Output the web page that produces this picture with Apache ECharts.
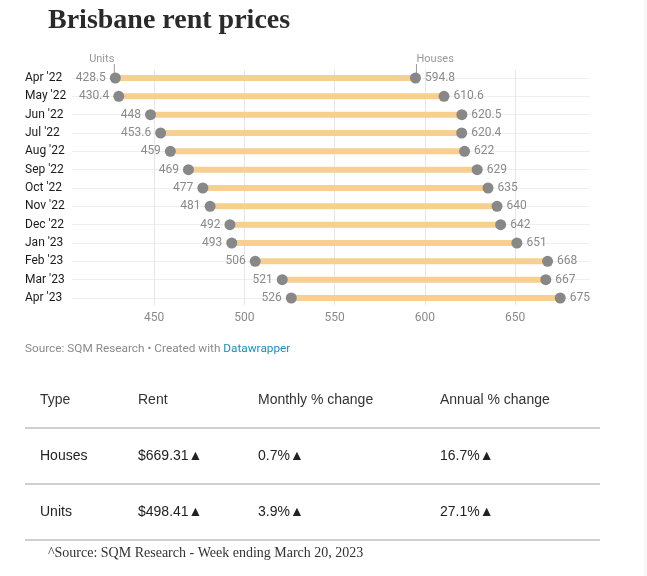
<!DOCTYPE html>
<html>
<head>
<meta charset="utf-8">
<script src="https://cdn.jsdelivr.net/npm/echarts@6/dist/echarts.min.js"></script>
<style>
  html, body { margin: 0; padding: 0; background: #fff; }
  #chart { width: 647px; height: 576px; }
</style>
</head>
<body>
<div id="chart"></div>
<script>
const months = ["Apr '22","May '22","Jun '22","Jul '22","Aug '22","Sep '22","Oct '22","Nov '22","Dec '22","Jan '23","Feb '23","Mar '23","Apr '23"];
const units  = [428.5, 430.4, 448, 453.6, 459, 469, 477, 481, 492, 493, 506, 521, 526];
const houses = [594.8, 610.6, 620.5, 620.4, 622, 629, 635, 640, 642, 651, 668, 667, 675];
const xTicks = [450, 500, 550, 600, 650];

const tableHeader = ["Type", "Rent", "Monthly % change", "Annual % change"];
const tableRows = [
  ["Houses", "$669.31", "0.7%", "16.7%"],
  ["Units",  "$498.41", "3.9%", "27.1%"]
];

const chart = echarts.init(document.getElementById('chart'), null, { renderer: 'canvas' });

const X_MIN = 404.5, X_MAX = 691.5;
const FONT = 'Roboto';

const option = {
  animation: false,
  backgroundColor: '#fff',
  grid: [
    { left: 72, right: 57, top: 70, bottom: 271 },
    { left: 72, right: 57, top: 78, bottom: 278 }
  ],
  xAxis: [
    {
      gridIndex: 0, type: 'value', min: X_MIN, max: X_MAX,
      axisLine: { show: false }, axisTick: { show: false, customValues: xTicks },
      axisLabel: { customValues: xTicks, color: '#8a8a8a', fontSize: 12, fontFamily: FONT, margin: 7 },
      splitLine: { show: true, lineStyle: { color: '#e6e6e6', width: 1 } }
    },
    {
      gridIndex: 1, type: 'value', min: X_MIN, max: X_MAX, show: false,
      splitLine: { show: false }
    }
  ],
  yAxis: [
    {
      gridIndex: 0, type: 'value', min: 0, max: 1, show: false, splitLine: { show: false }
    },
    {
      gridIndex: 1, type: 'category', data: months, inverse: true, boundaryGap: false,
      axisLine: { show: false }, axisTick: { show: false },
      axisLabel: { align: 'left', margin: 47, color: '#1a1a1a', fontSize: 12, fontFamily: FONT },
      splitLine: { show: true, lineStyle: { color: '#efefef', width: 1 } }
    }
  ],
  series: [
    {
      type: 'custom', xAxisIndex: 1, yAxisIndex: 1,
      data: months.map((m, i) => [units[i], houses[i], i]),
      encode: { x: [0, 1], y: 2 },
      renderItem: function (params, api) {
        const a = api.coord([api.value(0), api.value(2)]);
        const b = api.coord([api.value(1), api.value(2)]);
        return {
          type: 'line',
          shape: { x1: a[0], y1: a[1], x2: b[0], y2: b[1] },
          style: { stroke: '#f7cf8f', lineWidth: 6 }
        };
      },
      z: 2
    },
    {
      type: 'scatter', xAxisIndex: 1, yAxisIndex: 1,
      data: units.map((v, i) => [v, i]),
      symbolSize: 11,
      itemStyle: { color: '#888888', opacity: 1 },
      label: { show: true, position: 'left', distance: 4, color: '#8a8a8a', fontSize: 12, fontFamily: FONT,
        formatter: p => String(p.value[0]) },
      z: 3
    },
    {
      type: 'scatter', xAxisIndex: 1, yAxisIndex: 1,
      data: houses.map((v, i) => [v, i]),
      symbolSize: 11,
      itemStyle: { color: '#888888', opacity: 1 },
      label: { show: true, position: 'right', distance: 4, color: '#8a8a8a', fontSize: 12, fontFamily: FONT,
        formatter: p => String(p.value[0]) },
      z: 3
    }
  ]
};
chart.setOption(option);

// Annotations and table via graphic, positioned through the chart's own scales
const pu = chart.convertToPixel({ xAxisIndex: 1, yAxisIndex: 1 }, [units[0], 0]);
const ph = chart.convertToPixel({ xAxisIndex: 1, yAxisIndex: 1 }, [houses[0], 0]);

const graphics = [
  { type: 'text', x: 48, y: 7, style: { text: 'Brisbane rent prices', fill: '#2a2a2a', font: 'bold 28px "Liberation Serif"', verticalAlign: 'top' } },
  { type: 'line', shape: { x1: pu[0] - 1, y1: 64, x2: pu[0] - 1, y2: pu[1] - 4 }, style: { stroke: '#999', lineWidth: 1 } },
  { type: 'text', x: pu[0] - 1, y: 65, style: { text: 'Units', fill: '#999', font: '11px Roboto', align: 'right', verticalAlign: 'bottom' } },
  { type: 'line', shape: { x1: ph[0] + 1, y1: 64, x2: ph[0] + 1, y2: ph[1] - 4 }, style: { stroke: '#999', lineWidth: 1 } },
  { type: 'text', x: ph[0] + 1, y: 65, style: { text: 'Houses', fill: '#999', font: '11px Roboto', align: 'left', verticalAlign: 'bottom' } },
  { type: 'text', x: 25, y: 349, style: {
      text: '{g|Source: SQM Research • Created with }{b|Datawrapper}',
      verticalAlign: 'middle',
      rich: {
        g: { fill: '#8a8a8a', font: '11.8px Roboto' },
        b: { fill: '#1d8fbd', font: '11.8px Roboto' }
      }
  } }
];

const colX = [40, 138, 258, 440];
const rowY = [400, 456, 512];
const lineY = [428, 484, 540];
tableHeader.forEach((h, j) => {
  graphics.push({ type: 'text', x: colX[j], y: rowY[0], style: { text: h, fill: '#333', font: '14px "Liberation Sans"', verticalAlign: 'middle' } });
});
tableRows.forEach((r, i) => {
  r.forEach((c, j) => {
    const txt = j === 0 ? c : c + '▲';
    graphics.push({ type: 'text', x: colX[j], y: rowY[i + 1], style: { text: txt, fill: '#222', font: '14px "Liberation Sans"', verticalAlign: 'middle' } });
  });
});
lineY.forEach(y => {
  graphics.push({ type: 'line', shape: { x1: 25, y1: y, x2: 600, y2: y }, style: { stroke: '#a0a0a0', lineWidth: 1.2 } });
});
graphics.push({ type: 'text', x: 48, y: 553, style: { text: '^Source: SQM Research - Week ending March 20, 2023', fill: '#333', font: '14px "Liberation Serif"', verticalAlign: 'middle' } });
graphics.push({ type: 'rect', shape: { x: 644, y: 0, width: 3, height: 576 }, style: { fill: '#f8f8f8' } });

chart.setOption({ graphic: graphics });
</script>
</body>
</html>
